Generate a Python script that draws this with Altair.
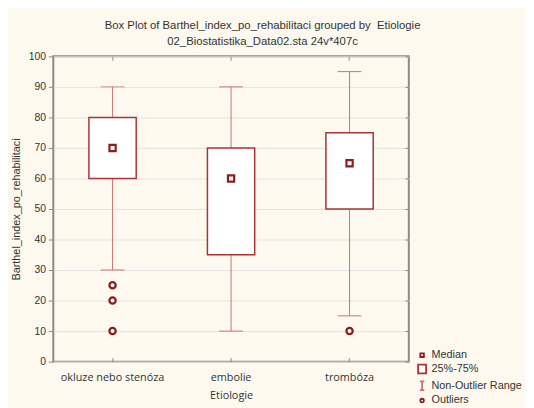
import altair as alt
import pandas as pd

categories = ["okluze nebo stenóza", "embolie", "trombóza"]
medians = [70, 60, 65]
q1 = [60, 35, 50]
q3 = [80, 70, 75]
whisk_lo = [30, 10, 15]
whisk_hi = [90, 90, 95]
outlier_cat = ["okluze nebo stenóza", "okluze nebo stenóza", "okluze nebo stenóza", "trombóza"]
outlier_val = [25, 20, 10, 10]
legend_items = ["Median", "25%-75%", "Non-Outlier Range", "Outliers"]
y_ticks = list(range(0, 101, 10))

BOX = "#a83434"
WH = "#c67474"
MED = "#8e1c1c"
FRAME = "#8a8a8a"

df = pd.DataFrame({"cat": categories, "med": medians, "q1": q1, "q3": q3,
                   "lo": whisk_lo, "hi": whisk_hi})
out = pd.DataFrame({"cat": outlier_cat, "val": outlier_val})
leg = pd.DataFrame({"item": legend_items})

W, H = 361, 310

def xs():
    return alt.Scale(domain=categories, paddingInner=0, paddingOuter=0)

def ys():
    return alt.Scale(domain=[0, 100], nice=False, zero=False)

x_main = alt.Axis(title="Etiologie", labelAngle=0, ticks=False, tickSize=0, domain=False,
                  labelFont="Open Sans", labelFontSize=11, labelColor="#333",
                  labelPadding=10, titleFont="Open Sans", titleFontSize=11,
                  titleFontWeight="normal", titleColor="#333", titlePadding=7)
x_bottom_ticks = alt.Axis(orient="top", offset=-H, labels=False, domain=False, grid=False,
                          tickColor=FRAME, tickSize=4, title=None)
x_top_ticks = alt.Axis(orient="bottom", offset=-H, labels=False, domain=False, grid=False,
                       tickColor=FRAME, tickSize=4, title=None)
y_main = alt.Axis(title="Barthel_index_po_rehabilitaci", values=y_ticks, grid=True,
                  gridColor="#e3e3e3", domain=False, tickColor=FRAME, tickSize=5,
                  labelFont="Liberation Sans", labelFontSize=10.5, labelColor="#333",
                  labelPadding=3, titleFont="Liberation Sans", titleFontSize=11,
                  titleFontWeight="normal", titleColor="#333", titlePadding=7)
y_right_ticks = alt.Axis(orient="left", offset=-W, values=y_ticks, labels=False, grid=False,
                         domain=False, tickColor=FRAME, tickSize=4, title=None)

base = alt.Chart(df)

whisk = base.mark_rule(color=WH, strokeWidth=1).encode(
    x=alt.X("cat:N", scale=xs(), sort=categories, axis=x_main),
    y=alt.Y("lo:Q", scale=ys(), axis=y_main),
    y2="hi:Q",
)

box = base.mark_bar(fill="white", stroke=BOX, strokeWidth=1.5, size=48).encode(
    x=alt.X("cat:N", scale=xs(), sort=categories, axis=x_bottom_ticks),
    y=alt.Y("q1:Q", scale=ys(), axis=y_right_ticks),
    y2="q3:Q",
)

caps = base.transform_fold(["lo", "hi"], as_=["k", "v"]).mark_tick(
    color=WH, size=24, thickness=1, opacity=1).encode(
    x=alt.X("cat:N", scale=xs(), sort=categories, axis=x_top_ticks),
    y=alt.Y("v:Q", scale=ys(), axis=None),
)

med = base.mark_square(size=40, fill="white", stroke=MED, strokeWidth=2.2, opacity=1).encode(
    x=alt.X("cat:N", scale=xs(), sort=categories, axis=None),
    y=alt.Y("med:Q", scale=ys(), axis=None),
)

outl = alt.Chart(out).mark_point(shape="circle", size=40, fill="white", stroke=MED,
                                 strokeWidth=2.3, opacity=1).encode(
    x=alt.X("cat:N", scale=xs(), sort=categories, axis=None),
    y=alt.Y("val:Q", scale=ys(), axis=None),
)

paths = [
    "M-0.4,-0.4H0.4V0.4H-0.4Z",
    "M-0.9,-1H0.9V1H-0.9Z",
    "M-0.5,-1H0.5M0,-1V1M-0.5,1H0.5",
    "M-0.4,0A0.4,0.4 0 1,0 0.4,0A0.4,0.4 0 1,0 -0.4,0Z",
]
leg_props = dict(title=None, orient="none", legendX=369, legendY=298,
                 labelFont="Liberation Sans", labelFontSize=11, labelColor="#333",
                 symbolSize=81, symbolStrokeWidth=1.8, symbolFillColor="white",
                 rowPadding=0, labelOffset=4, labelLimit=200, padding=0)
legend_layer = alt.Chart(leg).transform_filter("false").mark_point(
    fill="white", strokeWidth=1.8, opacity=1).encode(
    shape=alt.Shape("item:N", scale=alt.Scale(domain=legend_items, range=paths),
                    legend=alt.Legend(**leg_props)),
    stroke=alt.Stroke("item:N", scale=alt.Scale(domain=legend_items,
                                                range=[MED, BOX, WH, MED]),
                      legend=alt.Legend(**leg_props)),
)

chart = alt.layer(whisk, box, caps, med, outl, legend_layer).resolve_scale(
    x="independent", y="independent"
).properties(
    width=W, height=H,
    title=alt.Title(
        text=["Box Plot of Barthel_index_po_rehabilitaci grouped by\u00a0 Etiologie",
              "02_Biostatistika_Data02.sta 24v*407c"],
        font="Liberation Sans", fontSize=11.5, fontWeight="normal", color="#333",
        anchor="middle", frame="group", dx=32, offset=4, lineHeight=16),
    autosize=alt.AutoSizeParams(type="none"),
    padding={"left": 46, "top": 46, "right": 119, "bottom": 44},
).configure(background="#fdf9ee").configure_view(
    stroke=FRAME, strokeWidth=2, fill="white"
)

chart.save("out.html", embed_options={"renderer": "svg", "actions": False})
